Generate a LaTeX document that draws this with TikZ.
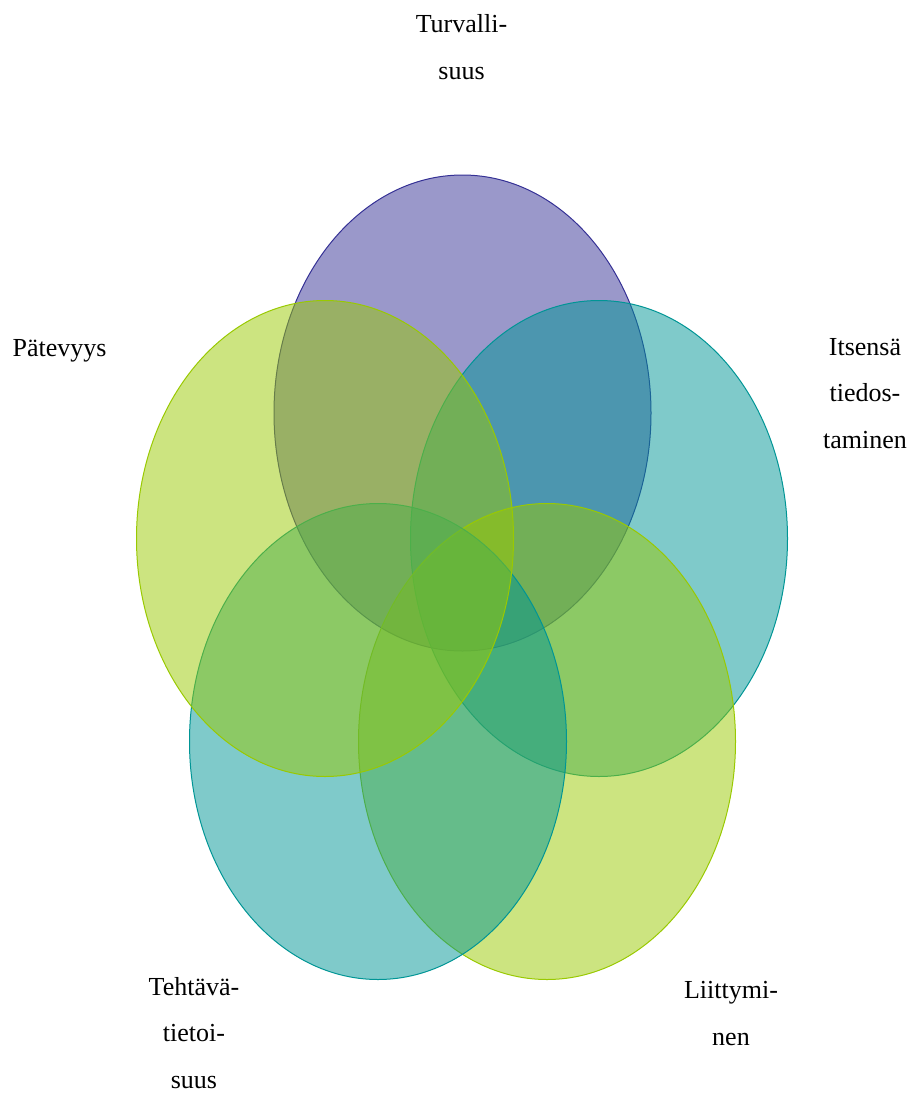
\documentclass[tikz,border=0pt]{standalone}
\usepackage{fontspec}
\setmainfont{Liberation Serif}
\usepackage{xcolor}
\definecolor{vennpurple}{RGB}{53,49,149}
\definecolor{vennteal}{RGB}{0,149,149}
\definecolor{venngreen}{RGB}{153,201,1}

\begin{document}
\begin{tikzpicture}[x=1pt,y=-1pt]
		\tikzstyle{every node}=[font=\fontsize{26}{46.5}\selectfont, align=center, inner sep=0pt, anchor=base]
		\tikzstyle{petal}=[line width=1pt, fill opacity=0.5]
		\useasboundingbox (0,0) rectangle (912,1093);
		\draw [petal, draw=vennpurple, fill=vennpurple] (462.5,413) ellipse (188.5pt and 238pt);
		\draw [petal, draw=vennteal, fill=vennteal] (599,538.5) ellipse (188.5pt and 238pt);
		\draw [petal, draw=venngreen, fill=venngreen] (547,741.5) ellipse (188.5pt and 238pt);
		\draw [petal, draw=vennteal, fill=vennteal] (378,741.5) ellipse (188.5pt and 238pt);
		\draw [petal, draw=venngreen, fill=venngreen] (325,538.5) ellipse (188.5pt and 238pt);
		% anchor=base sits on the last line
		\node (turvallisuus) at (461.5,79) {Turvalli-\\suus};
		\node (itsensa) at (865,448) {Itsensä\\tiedos-\\taminen};
		\node (liittyminen) at (731,1045) {Liittymi-\\nen};
		\node (tehtava) at (194,1088) {Tehtävä-\\tietoi-\\suus};
		\node (patevyys) at (59.5,356) {Pätevyys};
	\end{tikzpicture}
\end{document}
